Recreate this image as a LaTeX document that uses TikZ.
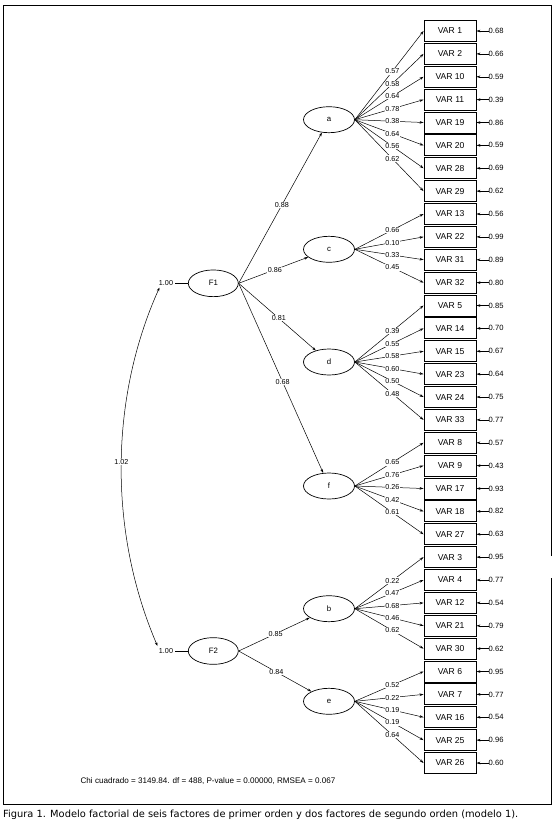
\documentclass[tikz,border=0pt]{standalone}
\usepackage{fontspec}
\setmainfont{Liberation Sans}
\newfontfamily\capfont{DejaVu Sans}
\usetikzlibrary{shapes.geometric,arrows.meta}
\begin{document}
\begin{tikzpicture}[x=1pt,y=-1pt,
  >={Stealth[length=4pt,width=2.6pt]},
  conn/.style={line width=0.5pt},
  varbox/.style={draw, line width=0.9pt, minimum width=52pt, minimum height=21pt, inner sep=0pt, font=\fontsize{8.6}{9}\selectfont},
  latent/.style={ellipse, draw, line width=0.7pt, minimum width=51pt, minimum height=26pt, inner sep=0pt, font=\fontsize{7.8}{8}\selectfont},
  ldlab/.style={fill=white, inner sep=0.6pt, font=\fontsize{7.2}{7.5}\selectfont},
  errlab/.style={anchor=west, inner sep=0pt, font=\fontsize{7.6}{8}\selectfont}]
\useasboundingbox (0,0) rectangle (556,828);
% frame
\draw[line width=1pt] (551,556) -- (551,5) -- (3,5) -- (3,804.5) -- (551,804.5) -- (551,578);

% second-order factors
\node[latent, minimum width=50pt, minimum height=26.7pt] (F1) at (213.3,283.3) {F1};
\node[latent, minimum width=50pt, minimum height=26.7pt] (F2) at (213.3,651) {F2};
% first-order factors
\node[latent] (La) at (329,119.7) {a};
\node[latent] (Lc) at (329,249.3) {c};
\node[latent] (Ld) at (329,362) {d};
\node[latent] (Lf) at (329,486) {f};
\node[latent] (Lb) at (329,608.7) {b};
\node[latent] (Le) at (329,701.3) {e};

\def\datalist{0/1/0.57/0.68/La, 1/2/0.58/0.66/La, 2/10/0.64/0.59/La, 3/11/0.78/0.39/La,
4/19/0.38/0.86/La, 5/20/0.64/0.59/La, 6/28/0.56/0.69/La, 7/29/0.62/0.62/La,
8/13/0.66/0.56/Lc, 9/22/0.10/0.99/Lc, 10/31/0.33/0.89/Lc, 11/32/0.45/0.80/Lc,
12/5/0.39/0.85/Ld, 13/14/0.55/0.70/Ld, 14/15/0.58/0.67/Ld, 15/23/0.60/0.64/Ld,
16/24/0.50/0.75/Ld, 17/33/0.48/0.77/Ld,
18/8/0.65/0.57/Lf, 19/9/0.76/0.43/Lf, 20/17/0.26/0.93/Lf, 21/18/0.42/0.82/Lf, 22/27/0.61/0.63/Lf,
23/3/0.22/0.95/Lb, 24/4/0.47/0.77/Lb, 25/12/0.68/0.54/Lb, 26/21/0.46/0.79/Lb, 27/30/0.62/0.62/Lb,
28/6/0.52/0.95/Le, 29/7/0.22/0.77/Le, 30/16/0.19/0.54/Le, 31/25/0.19/0.96/Le, 32/26/0.64/0.60/Le}

% observed variables, errors, loading arrows
\foreach \i/\v/\l/\e/\f in \datalist {
  \pgfmathsetmacro\yy{31+22.875*\i}
  \node[varbox] (v\i) at (450,\yy) {VAR \v};
  \node[errlab] (er\i) at (488.5,\yy) {\e};
  \draw[conn,->] (er\i.west) -- (v\i.east);
  \draw[conn,->] (\f.east) -- (v\i.west);
}
\foreach \i/\v/\l/\e/\f in \datalist {
  \path (\f.east) -- node[ldlab,pos=0.545] {\l} (v\i.west);
}

% second-order loadings
\draw[conn,->] (F1.east) -- node[ldlab,pos=0.52] {0.88} (La);
\draw[conn,->] (F1.east) -- node[ldlab,pos=0.52] {0.86} (Lc);
\draw[conn,->] (F1.east) -- node[ldlab,pos=0.52] {0.81} (Ld);
\draw[conn,->] (F1.east) -- node[ldlab,pos=0.52] {0.68} (Lf);
\draw[conn,->] (F2.east) -- node[ldlab,pos=0.52] {0.85} (Lb);
\draw[conn,->] (F2.east) -- node[ldlab,pos=0.52] {0.84} (Le);

% variances and covariance
\node[inner sep=2pt, font=\fontsize{7.2}{7.5}\selectfont] (one1) at (166,283.3) {1.00};
\node[inner sep=2pt, font=\fontsize{7.2}{7.5}\selectfont] (one2) at (166,651) {1.00};
\draw[conn] (one1.east) -- (F1.west);
\draw[conn] (one2.east) -- (F2.west);
\coordinate (ct) at (159.5,287.5);
\coordinate (cb) at (157.5,646);
\draw[conn,<->] (ct) .. controls (109,400) and (109,533) .. (cb);
\node[ldlab] (cov) at (121.3,462) {1.02};

% fit statistics and caption
\node[font=\fontsize{8.1}{9}\selectfont] (fit) at (208,781) {Chi cuadrado = 3149.84. df = 488, P-value = 0.00000, RMSEA = 0.067};
\node[anchor=west, inner sep=0pt] (cap) at (3,814.5) {\resizebox{515pt}{!}{\capfont Figura 1. Modelo factorial de seis factores de primer orden y dos factores de segundo orden (modelo 1).}};
\end{tikzpicture}
\end{document}
